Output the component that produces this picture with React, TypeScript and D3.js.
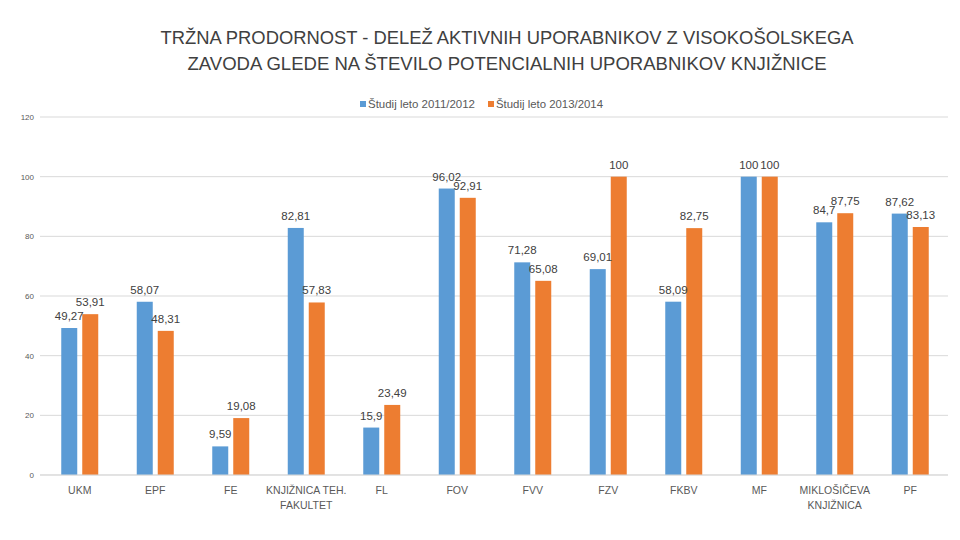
import React from 'react';
import * as d3 from 'd3';

const categories = [
  'UKM',
  'EPF',
  'FE',
  'KNJIŽNICA TEH. FAKULTET',
  'FL',
  'FOV',
  'FVV',
  'FZV',
  'FKBV',
  'MF',
  'MIKLOŠIČEVA KNJIŽNICA',
  'PF',
];
// wrapped category labels as shown under the axis
const categoryLines = [
  ['UKM'],
  ['EPF'],
  ['FE'],
  ['KNJIŽNICA TEH.', 'FAKULTET'],
  ['FL'],
  ['FOV'],
  ['FVV'],
  ['FZV'],
  ['FKBV'],
  ['MF'],
  ['MIKLOŠIČEVA', 'KNJIŽNICA'],
  ['PF'],
];
const seriesNames = ['Študij leto 2011/2012', 'Študij leto 2013/2014'];
const values2011 = [49.27, 58.07, 9.59, 82.81, 15.9, 96.02, 71.28, 69.01, 58.09, 100, 84.7, 87.62];
const values2013 = [53.91, 48.31, 19.08, 57.83, 23.49, 92.91, 65.08, 100, 82.75, 100, 87.75, 83.13];
const yTicks = [0, 20, 40, 60, 80, 100, 120];
const titleLines = [
  'TRŽNA PRODORNOST - DELEŽ AKTIVNIH UPORABNIKOV Z VISOKOŠOLSKEGA',
  'ZAVODA GLEDE NA ŠTEVILO POTENCIALNIH UPORABNIKOV KNJIŽNICE',
];

const colors = ['#5b9bd5', '#ed7d31'];
const W = 960;
const H = 540;
const margin = { left: 42, right: 12, top: 117, bottom: 65 };
const font = '"Liberation Sans", Arial, sans-serif';

const fmt = (v: number) => String(v).replace('.', ',');

const App = () => {
  const x0 = d3
    .scaleBand<string>()
    .domain(categories)
    .range([margin.left, W - margin.right])
    .paddingInner(0.51)
    .paddingOuter(0.255);
  const x1 = d3
    .scaleBand<number>()
    .domain([0, 1])
    .range([0, x0.bandwidth()])
    .paddingInner(0.238);
  const y = d3
    .scaleLinear()
    .domain([0, 120])
    .range([H - margin.bottom, margin.top]);

  const series = [values2011, values2013];

  return (
    <svg
      width={W}
      height={H}
      viewBox={`0 0 ${W} ${H}`}
      style={{ position: 'absolute', left: 0, top: 0, background: '#fff' }}
    >
      {titleLines.map((t, i) => (
        <text
          key={t}
          x={507}
          y={44 + i * 26}
          textAnchor="middle"
          fontFamily={font}
          fontSize={19}
          fill="#404040"
          textLength={i === 0 ? 693 : 639}
          lengthAdjust="spacingAndGlyphs"
        >
          {t}
        </text>
      ))}

      {/* legend */}
      {seriesNames.map((name, i) => {
        const lx = i === 0 ? 360 : 488;
        return (
          <g key={name}>
            <rect x={lx} y={101} width={6} height={6} fill={colors[i]} />
            <text
              x={lx + 8}
              y={108}
              fontFamily={font}
              fontSize={11}
              fill="#595959"
              textLength={107}
              lengthAdjust="spacingAndGlyphs"
            >
              {name}
            </text>
          </g>
        );
      })}

      {/* gridlines + y labels */}
      {yTicks.map((t) => (
        <g key={t}>
          <line
            x1={40}
            x2={W - margin.right}
            y1={y(t)}
            y2={y(t)}
            stroke="#d9d9d9"
            strokeWidth={1}
          />
          <text
            x={34}
            y={y(t) + 3}
            textAnchor="end"
            fontFamily={font}
            fontSize={8}
            fill="#595959"
          >
            {t}
          </text>
        </g>
      ))}

      {/* bars */}
      {series.map((vals, s) =>
        categories.map((c, i) => (
          <rect
            key={`${s}-${c}`}
            x={(x0(c) || 0) + (x1(s) || 0)}
            y={y(vals[i])}
            width={x1.bandwidth()}
            height={y(0) - y(vals[i])}
            fill={colors[s]}
          />
        )),
      )}

      {/* data labels */}
      {series.map((vals, s) =>
        categories.map((c, i) => (
          <text
            key={`l-${s}-${c}`}
            x={(x0(c) || 0) + (x1(s) || 0) + x1.bandwidth() / 2}
            y={y(vals[i]) - 8}
            textAnchor="middle"
            fontFamily={font}
            fontSize={11.5}
            fill="#404040"
          >
            {fmt(vals[i])}
          </text>
        )),
      )}

      {/* baseline */}
      <line x1={40} x2={W - margin.right} y1={y(0)} y2={y(0)} stroke="#d9d9d9" />

      {/* category labels */}
      {categories.map((c, i) => (
        <text
          key={`c-${c}`}
          x={(x0(c) || 0) + x0.bandwidth() / 2}
          y={494}
          textAnchor="middle"
          fontFamily={font}
          fontSize={10.5}
          fill="#595959"
        >
          {categoryLines[i].map((line, j) => (
            <tspan key={line} x={(x0(c) || 0) + x0.bandwidth() / 2} dy={j === 0 ? 0 : 15}>
              {line}
            </tspan>
          ))}
        </text>
      ))}
    </svg>
  );
};

export default App;
